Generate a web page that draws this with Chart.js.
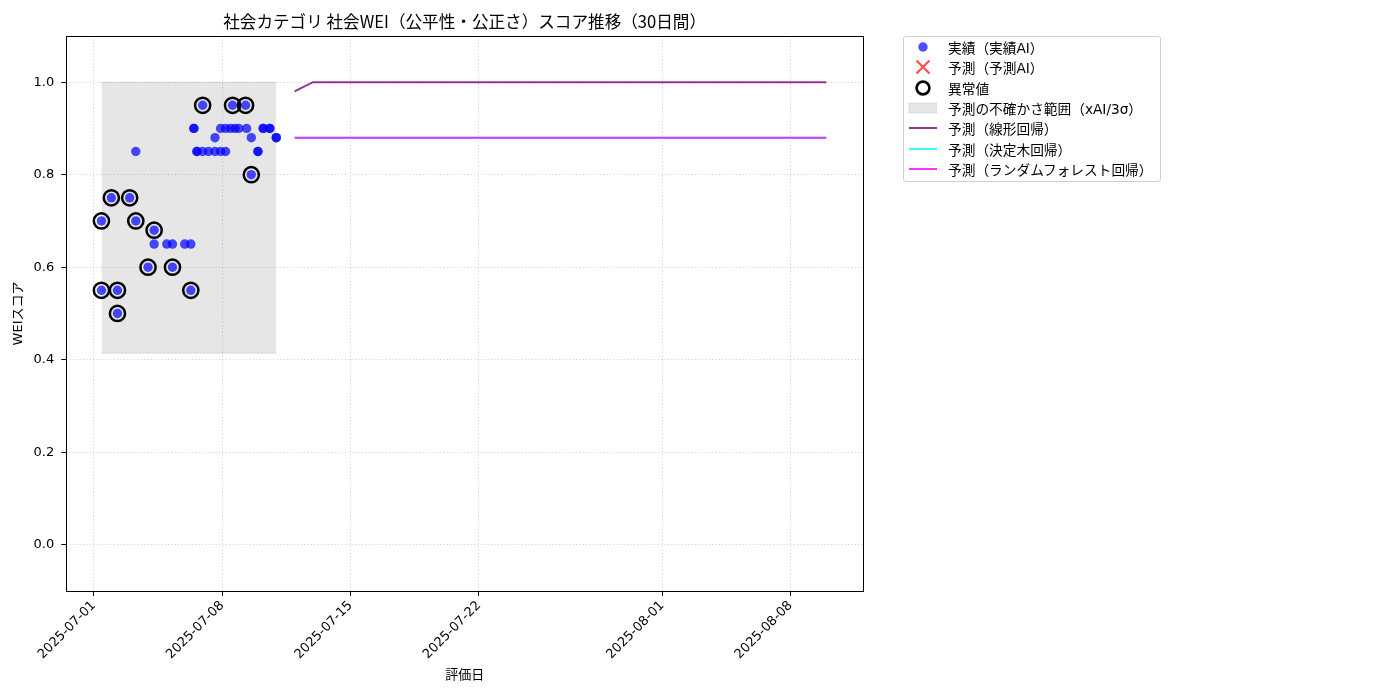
<!DOCTYPE html>
<html lang="ja">
<head>
<meta charset="utf-8">
<title>社会WEI スコア推移</title>
<script src="https://cdn.jsdelivr.net/npm/chart.js@4.4.1/dist/chart.umd.min.js"></script>
<style>
  html, body { margin: 0; padding: 0; background: #fff; }
  #wrap { position: relative; width: 1400px; height: 700px; }
  #legend {
    position: absolute; left: 903px; top: 36px; width: 258px; height: 146px;
    border: 1px solid #d0d0d0; border-radius: 3px; background: #fff;
    font-family: "DejaVu Sans", "Noto Sans CJK JP", sans-serif; font-size: 13.7px; color: #000;
    box-sizing: border-box; padding-top: 0;
  }
  #legend .row { display: flex; align-items: center; height: 20.3px; white-space: nowrap; }
  #legend svg { width: 30px; height: 18px; margin-left: 3px; margin-right: 11px; flex: none; }
</style>
</head>
<body>
<div id="wrap">
  <canvas id="weiChart" width="1400" height="700"></canvas>
  <div id="legend"></div>
</div>
<script>
// actual evaluations (実績AI)
const actualDates = [
  '2025-07-01 10:00', '2025-07-01 10:00', '2025-07-01 23:00', '2025-07-02 07:00', '2025-07-02 07:00',
  '2025-07-02 23:00', '2025-07-03 07:00', '2025-07-03 07:00', '2025-07-03 23:00', '2025-07-04 07:00',
  '2025-07-04 07:00', '2025-07-04 23:30', '2025-07-05 07:00', '2025-07-05 07:00', '2025-07-05 23:00',
  '2025-07-06 07:00', '2025-07-06 07:00', '2025-07-06 11:00', '2025-07-06 11:00', '2025-07-06 15:00',
  '2025-07-06 15:00', '2025-07-06 22:30', '2025-07-06 22:30', '2025-07-07 06:15', '2025-07-07 14:40',
  '2025-07-07 14:40', '2025-07-07 22:00', '2025-07-07 22:00', '2025-07-08 04:30', '2025-07-08 04:30',
  '2025-07-08 11:00', '2025-07-08 13:40', '2025-07-08 16:50', '2025-07-08 21:50', '2025-07-09 06:40',
  '2025-07-09 08:00', '2025-07-09 14:10', '2025-07-09 14:10', '2025-07-09 22:50', '2025-07-09 22:50',
  '2025-07-10 05:45', '2025-07-10 05:45', '2025-07-10 14:25', '2025-07-10 14:25', '2025-07-10 22:50',
  '2025-07-10 22:50'
];
const actualScores = [
  0.70, 0.55, 0.75, 0.55, 0.50,
  0.75, 0.70, 0.85, 0.60, 0.68,
  0.65, 0.65, 0.60, 0.65, 0.65,
  0.55, 0.65, 0.90, 0.90, 0.85,
  0.85, 0.95, 0.85, 0.85, 0.88,
  0.85, 0.90, 0.85, 0.90, 0.85,
  0.90, 0.95, 0.90, 0.90, 0.95,
  0.90, 0.80, 0.88, 0.85, 0.85,
  0.90, 0.90, 0.90, 0.90, 0.88,
  0.88
];

// anomalies (異常値)
const outlierDates = [
  '2025-07-01 10:00', '2025-07-01 10:00', '2025-07-01 23:00', '2025-07-02 07:00', '2025-07-02 07:00',
  '2025-07-02 23:00', '2025-07-03 07:00', '2025-07-03 23:00', '2025-07-04 07:00', '2025-07-05 07:00',
  '2025-07-06 07:00', '2025-07-06 22:30', '2025-07-08 13:40', '2025-07-09 06:40', '2025-07-09 14:10'
];
const outlierScores = [0.70, 0.55, 0.75, 0.55, 0.50, 0.75, 0.70, 0.60, 0.68, 0.60, 0.55, 0.95, 0.95, 0.95, 0.80];

// uncertainty band (xAI / 3σ)
const bandDates = ['2025-07-01 10:00', '2025-07-10 22:50'];
const bandUpper = [1.0, 1.0];
const bandLower = [0.414, 0.414];

// 30-day forecasts, one per day from predStart
const predStart = '2025-07-11 22:50';
const linearPred = [
  0.98, 1.0, 1.0, 1.0, 1.0, 1.0, 1.0, 1.0, 1.0, 1.0,
  1.0, 1.0, 1.0, 1.0, 1.0, 1.0, 1.0, 1.0, 1.0, 1.0,
  1.0, 1.0, 1.0, 1.0, 1.0, 1.0, 1.0, 1.0, 1.0, 1.0
];
const treePred = [
  0.88, 0.88, 0.88, 0.88, 0.88, 0.88, 0.88, 0.88, 0.88, 0.88,
  0.88, 0.88, 0.88, 0.88, 0.88, 0.88, 0.88, 0.88, 0.88, 0.88,
  0.88, 0.88, 0.88, 0.88, 0.88, 0.88, 0.88, 0.88, 0.88, 0.88
];
const forestPred = [
  0.88, 0.88, 0.88, 0.88, 0.88, 0.88, 0.88, 0.88, 0.88, 0.88,
  0.88, 0.88, 0.88, 0.88, 0.88, 0.88, 0.88, 0.88, 0.88, 0.88,
  0.88, 0.88, 0.88, 0.88, 0.88, 0.88, 0.88, 0.88, 0.88, 0.88
];

// axis ticks
const xTickLabels = ['2025-07-01', '2025-07-08', '2025-07-15', '2025-07-22', '2025-08-01', '2025-08-08'];
const yTickValues = [0.0, 0.2, 0.4, 0.6, 0.8, 1.0];

const FONT = '"DejaVu Sans", "Noto Sans CJK JP", sans-serif';
const JP_FONT = '"Noto Sans CJK JP", sans-serif';
const BASE = Date.UTC(2025, 6, 1);

// date string -> days since 2025-07-01
function dayOffset(s) {
  const [d, t = '00:00'] = s.split(' ');
  const [Y, M, D] = d.split('-').map(Number);
  const [h, m] = t.split(':').map(Number);
  return (Date.UTC(Y, M - 1, D, h, m) - BASE) / 864e5;
}

function pairs(dates, values) {
  return values.map((v, i) => ({ x: dayOffset(dates[i]), y: v }));
}

const predX = linearPred.map((_, i) => dayOffset(predStart) + i);
const predLine = values => values.map((v, i) => ({ x: predX[i], y: v }));

// matplotlib-like closed frame around the plot
const frame = {
  id: 'frame',
  afterDraw(chart) {
    const { ctx, chartArea: a } = chart;
    ctx.save();
    ctx.strokeStyle = '#000';
    ctx.lineWidth = 1;
    ctx.strokeRect(Math.round(a.left) + 0.5, Math.round(a.top) + 0.5,
      Math.round(a.right - a.left), Math.round(a.bottom - a.top));
    ctx.restore();
  }
};

const gridCommon = {
  color: 'rgba(176,176,176,0.7)',
  lineWidth: 0.8,
  tickColor: '#000',
  tickLength: 5,
  tickWidth: 1,
  tickBorderDash: []
};

new Chart(document.getElementById('weiChart'), {
  type: 'scatter',
  data: {
    datasets: [
      {
        label: 'band-upper',
        type: 'line',
        data: pairs(bandDates, bandUpper),
        borderColor: 'rgba(128,128,128,0.2)',
        borderWidth: 1,
        pointRadius: 0,
        fill: false,
        order: 10
      },
      {
        label: '予測の不確かさ範囲（xAI/3σ）',
        type: 'line',
        data: pairs(bandDates, bandLower),
        borderColor: 'rgba(128,128,128,0.2)',
        borderWidth: 1,
        backgroundColor: 'rgba(128,128,128,0.2)',
        pointRadius: 0,
        fill: '-1',
        order: 10
      },
      {
        label: '予測（線形回帰）',
        type: 'line',
        data: predLine(linearPred),
        borderColor: 'rgba(128,0,128,0.8)',
        borderWidth: 2,
        pointRadius: 0,
        fill: false,
        order: 5
      },
      {
        label: '予測（決定木回帰）',
        type: 'line',
        data: predLine(treePred),
        borderColor: 'rgba(0,255,255,0.8)',
        borderWidth: 2,
        pointRadius: 0,
        fill: false,
        order: 4
      },
      {
        label: '予測（ランダムフォレスト回帰）',
        type: 'line',
        data: predLine(forestPred),
        borderColor: 'rgba(255,0,255,0.8)',
        borderWidth: 2,
        pointRadius: 0,
        fill: false,
        order: 3
      },
      {
        label: '実績（実績AI）',
        data: pairs(actualDates, actualScores),
        backgroundColor: 'rgba(0,0,255,0.7)',
        borderWidth: 0,
        pointRadius: 4.7,
        order: 2
      },
      {
        label: '異常値',
        data: pairs(outlierDates, outlierScores),
        backgroundColor: 'rgba(0,0,0,0)',
        borderColor: '#000',
        borderWidth: 2.5,
        pointRadius: 7.6,
        order: 1
      }
    ]
  },
  options: {
    responsive: false,
    animation: false,
    events: [],
    layout: { padding: { left: 6, right: 537, top: 0, bottom: 18 } },
    plugins: {
      legend: { display: false },
      tooltip: { enabled: false },
      title: {
        display: true,
        fullSize: false,
        text: '社会カテゴリ 社会WEI（公平性・公正さ）スコア推移（30日間）',
        color: '#000',
        font: { family: JP_FONT, size: 16.6, weight: 'normal' },
        padding: { top: 12, bottom: 4 }
      }
    },
    scales: {
      x: {
        type: 'linear',
        min: -1.5,
        max: 41.95,
        afterBuildTicks: axis => { axis.ticks = xTickLabels.map(d => ({ value: dayOffset(d) })); },
        ticks: {
          autoSkip: false,
          minRotation: 45,
          maxRotation: 45,
          padding: 2,
          color: '#000',
          font: { family: FONT, size: 13 },
          callback: (v, i) => xTickLabels[i]
        },
        grid: gridCommon,
        border: { display: false, dash: [1.2, 2.2] },
        title: {
          display: true,
          text: '評価日',
          color: '#000',
          font: { family: JP_FONT, size: 13 },
          padding: { top: 2, bottom: 0 }
        }
      },
      y: {
        min: -0.1,
        max: 1.1,
        afterBuildTicks: axis => { axis.ticks = yTickValues.map(v => ({ value: v })); },
        ticks: {
          padding: 7,
          color: '#000',
          font: { family: FONT, size: 13 },
          callback: v => v.toFixed(1)
        },
        grid: gridCommon,
        border: { display: false, dash: [1.2, 2.2] },
        title: {
          display: true,
          text: 'WEIスコア',
          color: '#000',
          font: { family: FONT, size: 13 },
          padding: { top: 5, bottom: 0 }
        }
      }
    }
  },
  plugins: [frame]
});

// legend (same order as the reference)
const legendItems = [
  ['dot', '実績（実績AI）'],
  ['cross', '予測（予測AI）'],
  ['ring', '異常値'],
  ['band', '予測の不確かさ範囲（xAI/3σ）'],
  ['line:rgba(128,0,128,0.8)', '予測（線形回帰）'],
  ['line:rgba(0,255,255,0.8)', '予測（決定木回帰）'],
  ['line:rgba(255,0,255,0.8)', '予測（ランダムフォレスト回帰）']
];
const symbols = {
  dot: '<circle cx="16" cy="9" r="4.7" fill="rgba(0,0,255,0.7)"/>',
  cross: '<path d="M9.5 2.5 L22.5 15.5 M22.5 2.5 L9.5 15.5" stroke="rgba(255,0,0,0.7)" stroke-width="2.2"/>',
  ring: '<circle cx="16" cy="9" r="6.4" fill="none" stroke="#000" stroke-width="2.6"/>',
  band: '<rect x="2" y="4" width="28" height="10" fill="rgba(128,128,128,0.2)" stroke="rgba(128,128,128,0.2)"/>'
};
const legendEl = document.getElementById('legend');
legendItems.forEach(([kind, text]) => {
  const svg = kind.startsWith('line:')
    ? `<line x1="2" y1="9" x2="30" y2="9" stroke="${kind.slice(5)}" stroke-width="2"/>`
    : symbols[kind];
  const row = document.createElement('div');
  row.className = 'row';
  row.innerHTML = `<svg viewBox="0 0 30 18">${svg}</svg><span>${text}</span>`;
  legendEl.appendChild(row);
});
</script>
</body>
</html>
